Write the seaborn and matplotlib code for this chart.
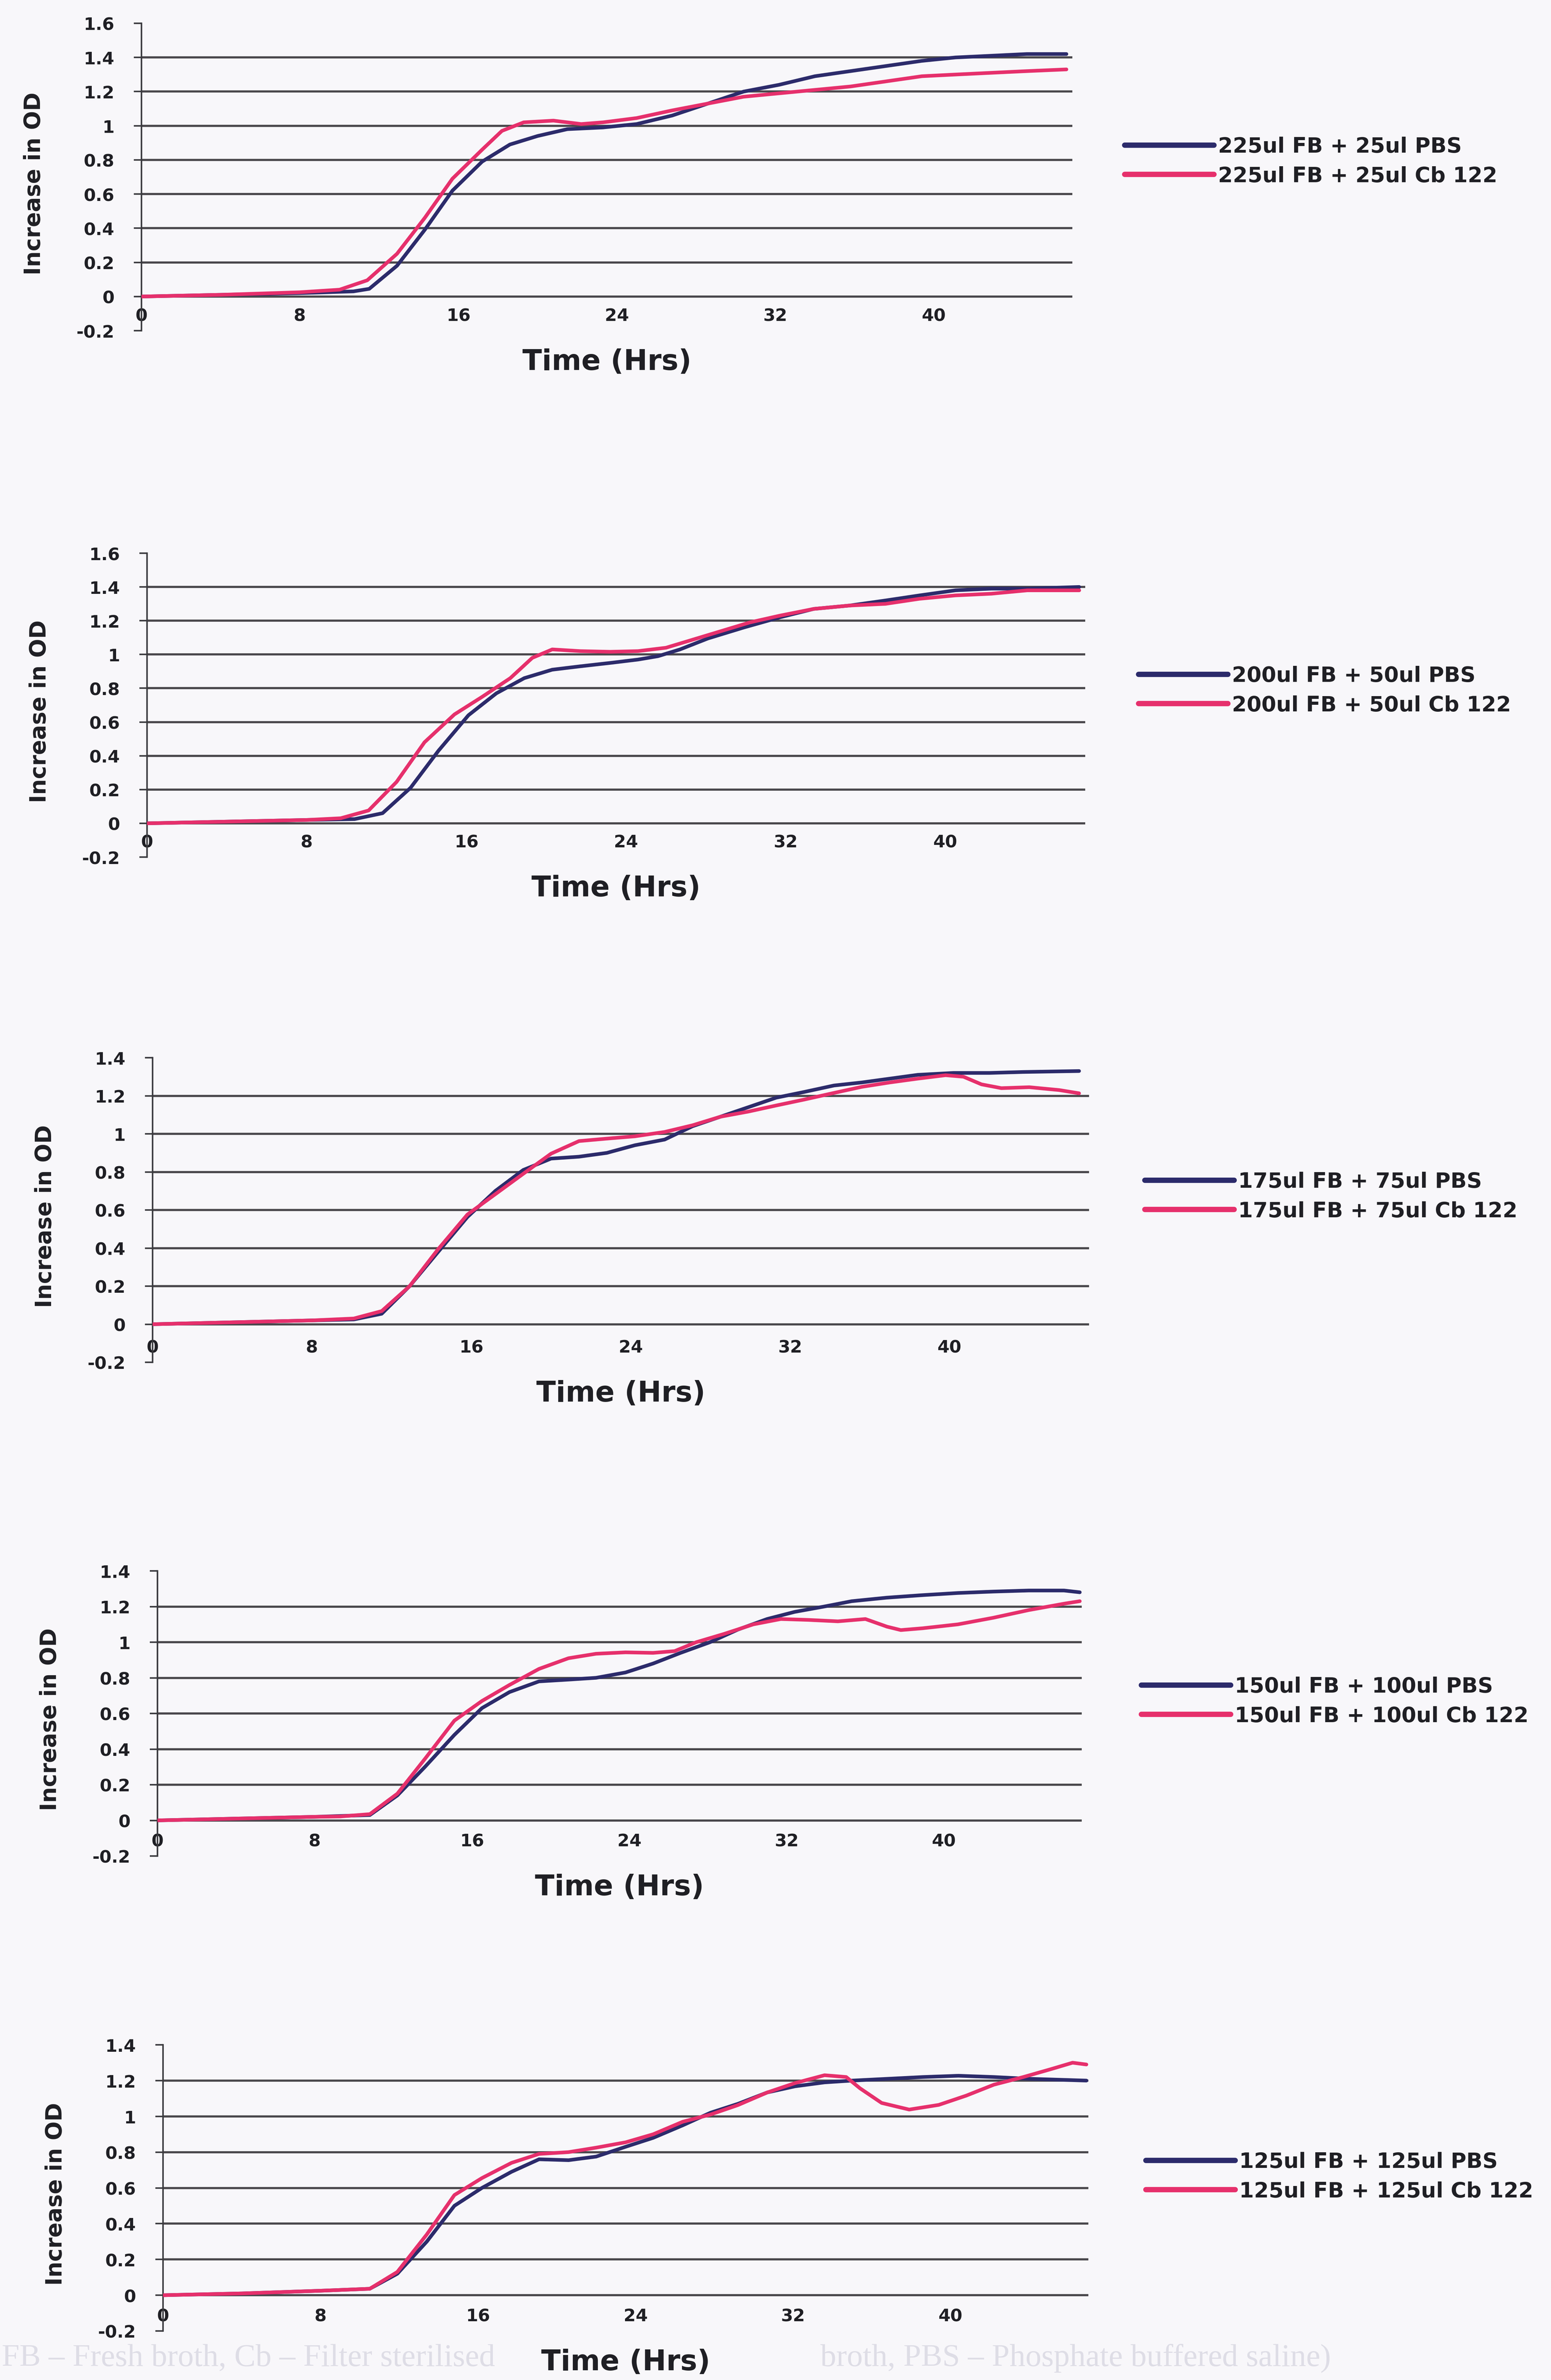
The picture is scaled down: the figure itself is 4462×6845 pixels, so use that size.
import matplotlib
matplotlib.use("Agg")
import matplotlib.pyplot as plt
import seaborn as sns

W, H = 4462, 6846

# ---------------- data ----------------
x_ticks = [0, 8, 16, 24, 32, 40]
x_max = 47

# Panel 1 : 225ul FB
p1_t_pbs = [0, 4, 8, 10.7, 11.5, 12.9, 14.3, 15.7, 17.2, 18.6, 20.0, 21.5, 23.3, 25.0, 26.8, 28.6, 30.4,
            32.2, 34.0, 35.8, 37.6, 39.4, 41.1, 42.9, 44.7, 46.7]
p1_pbs = [0, 0.01, 0.02, 0.03, 0.045, 0.18, 0.39, 0.62, 0.79, 0.89, 0.94, 0.98, 0.99, 1.01, 1.06, 1.13, 1.20,
          1.24, 1.29, 1.32, 1.35, 1.38, 1.40, 1.41, 1.42, 1.42]
p1_t_cb = [0, 4, 8, 10.0, 11.4, 12.9, 14.3, 15.7, 17.2, 18.2, 19.3, 20.8, 22.2, 23.3, 25.0, 26.8, 28.6, 30.4,
           32.2, 34.0, 35.8, 37.6, 39.4, 41.1, 42.9, 44.7, 46.7]
p1_cb = [0, 0.01, 0.025, 0.04, 0.095, 0.25, 0.46, 0.69, 0.86, 0.97, 1.02, 1.03, 1.01, 1.02, 1.045, 1.09, 1.13,
         1.17, 1.19, 1.21, 1.23, 1.26, 1.29, 1.30, 1.31, 1.32, 1.33]

# Panel 2 : 200ul FB
p2_t_pbs = [0, 4, 8, 10.4, 11.8, 13.2, 14.6, 16.1, 17.5, 18.9, 20.3, 21.7, 23.2, 24.6, 25.6, 26.7, 28.1, 29.9,
            31.7, 33.4, 35.2, 37.0, 38.7, 40.5, 42.3, 44.1, 46.7]
p2_pbs = [0, 0.01, 0.02, 0.025, 0.06, 0.21, 0.43, 0.64, 0.77, 0.86, 0.91, 0.93, 0.95, 0.97, 0.99, 1.03, 1.095,
          1.16, 1.22, 1.27, 1.29, 1.32, 1.35, 1.38, 1.39, 1.39, 1.40]
p2_t_cb = [0, 4, 8, 9.7, 11.1, 12.5, 13.9, 15.4, 16.8, 18.2, 19.3, 20.3, 21.7, 23.2, 24.6, 26.0, 27.4, 28.8,
           30.2, 31.7, 33.4, 35.2, 37.0, 38.7, 40.5, 42.3, 44.1, 46.7]
p2_cb = [0, 0.01, 0.02, 0.03, 0.076, 0.245, 0.48, 0.645, 0.75, 0.86, 0.98, 1.03, 1.02, 1.016, 1.02, 1.04, 1.09,
         1.14, 1.19, 1.23, 1.27, 1.29, 1.30, 1.33, 1.35, 1.36, 1.38, 1.38]

# Panel 3 : 175ul FB
p3_t_pbs = [0, 4, 8, 10.1, 11.5, 12.9, 14.3, 15.8, 17.2, 18.6, 20.0, 21.4, 22.8, 24.2, 25.7, 27.1, 28.5, 29.9,
            31.3, 32.7, 34.2, 35.6, 37.0, 38.4, 40.2, 42.0, 43.7, 46.5]
p3_pbs = [0, 0.01, 0.02, 0.025, 0.055, 0.20, 0.376, 0.563, 0.70, 0.81, 0.87, 0.88, 0.90, 0.94, 0.97, 1.04, 1.09,
          1.14, 1.19, 1.22, 1.254, 1.27, 1.29, 1.31, 1.32, 1.32, 1.325, 1.33]
p3_t_cb = [0, 4, 8, 10.1, 11.5, 12.9, 14.3, 15.8, 17.2, 18.6, 20.0, 21.4, 22.8, 24.2, 25.7, 27.1, 28.5, 29.9,
           31.3, 32.7, 34.2, 35.6, 37.0, 38.4, 39.8, 40.7, 41.6, 42.6, 44.0, 45.5, 46.5]
p3_cb = [0, 0.01, 0.02, 0.03, 0.069, 0.20, 0.39, 0.576, 0.683, 0.79, 0.896, 0.962, 0.975, 0.987, 1.01, 1.045,
         1.09, 1.117, 1.149, 1.18, 1.215, 1.247, 1.27, 1.29, 1.308, 1.30, 1.26, 1.24, 1.245, 1.23, 1.213]

# Panel 4 : 150ul FB
p4_t_pbs = [0, 4, 8, 10.8, 12.2, 13.6, 15.1, 16.5, 17.9, 19.4, 20.9, 22.3, 23.8, 25.2, 26.6, 28.1, 29.5, 31.0,
            32.4, 33.9, 35.3, 37.1, 38.9, 40.7, 42.5, 44.3, 46.1, 46.9]
p4_pbs = [0, 0.01, 0.02, 0.03, 0.14, 0.30, 0.48, 0.63, 0.72, 0.78, 0.79, 0.80, 0.83, 0.88, 0.94, 1.00, 1.07,
          1.13, 1.17, 1.20, 1.23, 1.25, 1.264, 1.276, 1.284, 1.29, 1.29, 1.28]
p4_t_cb = [0, 4, 8, 9.3, 10.8, 12.2, 13.6, 15.1, 16.5, 17.9, 19.4, 20.9, 22.3, 23.8, 25.2, 26.3, 27.4, 28.8,
           30.3, 31.7, 33.1, 34.6, 36.0, 37.1, 37.8, 38.9, 40.7, 42.5, 44.3, 46.1, 46.9]
p4_cb = [0, 0.01, 0.02, 0.022, 0.035, 0.15, 0.345, 0.56, 0.67, 0.76, 0.85, 0.91, 0.935, 0.943, 0.94, 0.95, 1.00,
         1.046, 1.10, 1.13, 1.125, 1.117, 1.13, 1.087, 1.068, 1.078, 1.10, 1.137, 1.18, 1.216, 1.23]

# Panel 5 : 125ul FB
p5_t_pbs = [0, 4, 8, 10.5, 11.9, 13.4, 14.8, 16.2, 17.7, 19.1, 20.6, 22.0, 23.5, 24.9, 26.4, 27.8, 29.2, 30.7,
            32.1, 33.6, 35.0, 36.8, 38.6, 40.4, 42.2, 44.0, 46.9]
p5_pbs = [0, 0.01, 0.025, 0.036, 0.12, 0.30, 0.50, 0.60, 0.69, 0.76, 0.755, 0.775, 0.83, 0.88, 0.95, 1.02, 1.07,
          1.134, 1.168, 1.19, 1.20, 1.21, 1.22, 1.227, 1.22, 1.21, 1.20]
p5_t_cb = [0, 4, 8, 10.5, 11.9, 13.4, 14.8, 16.2, 17.7, 19.1, 20.6, 22.0, 23.5, 24.9, 26.4, 27.8, 29.2, 30.7,
           32.1, 33.6, 34.7, 35.4, 36.5, 37.9, 39.4, 40.8, 42.2, 43.7, 45.1, 46.2, 46.9]
p5_cb = [0, 0.01, 0.025, 0.036, 0.13, 0.34, 0.56, 0.655, 0.74, 0.79, 0.80, 0.825, 0.855, 0.90, 0.97, 1.01, 1.063,
         1.134, 1.186, 1.23, 1.22, 1.157, 1.075, 1.038, 1.064, 1.116, 1.177, 1.22, 1.264, 1.30, 1.29]

labels_pbs = ["225ul FB + 25ul PBS", "200ul FB + 50ul PBS", "175ul FB + 75ul PBS",
              "150ul FB + 100ul PBS", "125ul FB + 125ul PBS"]
labels_cb = ["225ul FB + 25ul Cb 122", "200ul FB + 50ul Cb 122", "175ul FB + 75ul Cb 122",
             "150ul FB + 100ul Cb 122", "125ul FB + 125ul Cb 122"]

y_ticks_16 = [-0.2, 0, 0.2, 0.4, 0.6, 0.8, 1.0, 1.2, 1.4, 1.6]
y_labels_16 = ["-0.2", "0", "0.2", "0.4", "0.6", "0.8", "1", "1.2", "1.4", "1.6"]
y_ticks_14 = [-0.2, 0, 0.2, 0.4, 0.6, 0.8, 1.0, 1.2, 1.4]
y_labels_14 = ["-0.2", "0", "0.2", "0.4", "0.6", "0.8", "1", "1.2", "1.4"]

x_title = "Time (Hrs)"
y_title = "Increase in OD"
footnote_left = "FB \u2013 Fresh broth, Cb \u2013 Filter sterilised"
footnote_right = "broth, PBS \u2013 Phosphate buffered saline)"

# ---------------- style / layout ----------------
sns.set_theme(style="white")
plt.rcParams["font.family"] = ["DejaVu Sans"]

BLUE = "#2c2b6b"
PINK = "#e6306c"
GRID = "#4a484c"
TXT = "#1f1f24"
BG = "#f8f7fa"

# axes boxes in pixels: left, right, top, bottom
boxes = [(407, 3085, 68, 952), (423, 3122, 1592, 2466), (439, 3133, 3043, 3919),
         (453, 3112, 4519, 5339), (469, 3131, 5882, 6705)]
# legend anchor (handle start x, legend top y) in pixels
legend_pos = [(3235, 393), (3275, 1915), (3293, 3370), (3283, 4822), (3296, 6189)]

panels = [
    (p1_t_pbs, p1_pbs, p1_t_cb, p1_cb, y_ticks_16, y_labels_16),
    (p2_t_pbs, p2_pbs, p2_t_cb, p2_cb, y_ticks_16, y_labels_16),
    (p3_t_pbs, p3_pbs, p3_t_cb, p3_cb, y_ticks_14, y_labels_14),
    (p4_t_pbs, p4_pbs, p4_t_cb, p4_cb, y_ticks_14, y_labels_14),
    (p5_t_pbs, p5_pbs, p5_t_cb, p5_cb, y_ticks_14, y_labels_14),
]

fig = plt.figure(figsize=(W / 100, H / 100), dpi=100, facecolor=BG)

serif = ["Liberation Serif", "DejaVu Serif"]
fig.text(5 / W, 1 - 6782 / H, footnote_left, fontsize=66, family=serif,
         color="#dedde6", va="center", ha="left", zorder=0)
fig.text(2360 / W, 1 - 6782 / H, footnote_right, fontsize=66, family=serif,
         color="#dedde6", va="center", ha="left", zorder=0)

for i, (tp, vp, tc, vc, yt, yl) in enumerate(panels):
    l, r, t, b = boxes[i]
    ax = fig.add_axes([l / W, 1 - b / H, (r - l) / W, (b - t) / H])
    ax.set_facecolor("none")
    sns.lineplot(x=tp, y=vp, ax=ax, color=BLUE, lw=7.5, label=labels_pbs[i], zorder=4)
    sns.lineplot(x=tc, y=vc, ax=ax, color=PINK, lw=7.5, label=labels_cb[i], zorder=5)

    ax.set_xlim(0, x_max)
    ax.set_ylim(yt[0], yt[-1])
    ax.set_xticks(x_ticks)
    ax.set_xticklabels([str(v) for v in x_ticks])
    ax.set_yticks(yt)
    ax.set_yticklabels(yl)

    ax.yaxis.grid(True, color=GRID, lw=4.5, zorder=1)
    ax.xaxis.grid(False)
    gl = ax.get_ygridlines()
    gl[0].set_visible(False)
    gl[-1].set_visible(False)

    for s in ["top", "right", "bottom"]:
        ax.spines[s].set_visible(False)
    ax.spines["left"].set_color("#3a3a3e")
    ax.spines["left"].set_linewidth(3.2)

    ax.tick_params(axis="y", left=True, length=16, width=3.2, color="#3a3a3e",
                   pad=40, labelsize=36, labelcolor=TXT)
    ax.tick_params(axis="x", bottom=False, length=0, pad=-48, labelsize=36, labelcolor=TXT)
    for lab in ax.get_xticklabels() + ax.get_yticklabels():
        lab.set_fontweight("bold")

    ax.set_xlabel(x_title, fontsize=59, fontweight="bold", color=TXT)
    ax.set_ylabel(y_title, fontsize=46, fontweight="bold", color=TXT)
    ax.xaxis.set_label_coords(0.5, -50 / (b - t))
    ax.yaxis.set_label_coords(-278 / (r - l), 0.48)

    lx, ly = legend_pos[i]
    leg = ax.legend(loc="upper left", bbox_to_anchor=(lx / W, 1 - ly / H), bbox_transform=fig.transFigure,
                    frameon=False, prop={"size": 44, "weight": "bold"}, handlelength=4.2,
                    handletextpad=0.2, labelspacing=0.42, borderpad=0, borderaxespad=0)
    for ln in leg.get_lines():
        ln.set_linewidth(11)
    for tx in leg.get_texts():
        tx.set_color(TXT)

fig.savefig("out.png", dpi=100, facecolor=BG)
